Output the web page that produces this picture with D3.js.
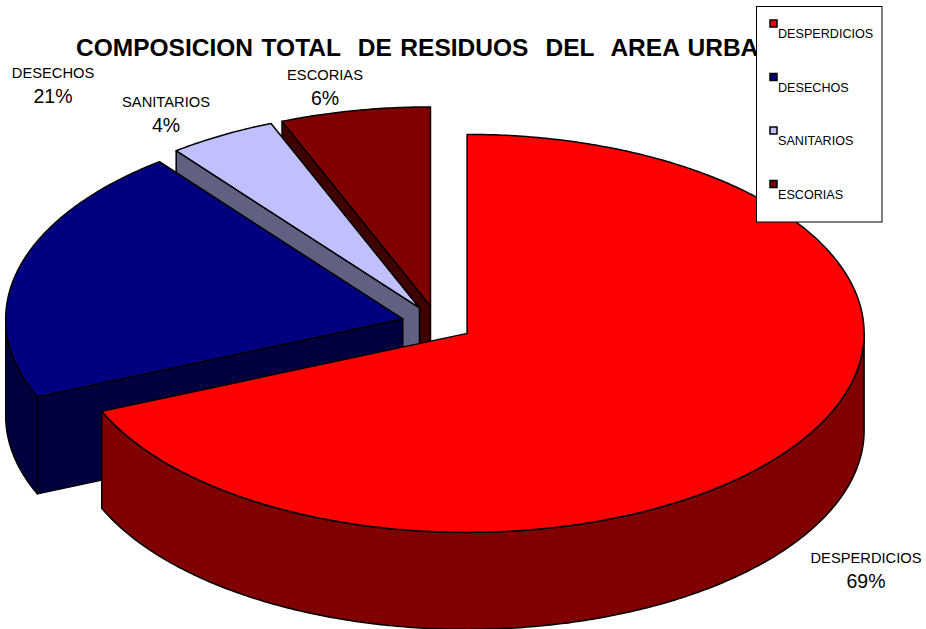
<!DOCTYPE html>
<html>
<head>
<meta charset="utf-8">
<script src="https://cdn.jsdelivr.net/npm/d3@7/dist/d3.min.js"></script>
<style>
html,body{margin:0;padding:0;background:#fff;}
svg{display:block;}
text{font-family:"Liberation Sans",Arial,sans-serif;fill:#000;}
</style>
</head>
<body>
<script>
const categories = ["DESPERDICIOS","DESECHOS","SANITARIOS","ESCORIAS"];
const seriesValues = [68.6,20.9,4.4,6.1];
const percentLabels = ["69%","21%","4%","6%"];
const titleText = "COMPOSICION TOTAL  DE RESIDUOS  DEL  AREA URBANA";

const topColors  = ["#FF0000","#000080","#C0C0FF","#800000"];
const wallColors = ["#800000","#000040","#606080","#400000"];
const labelAnchors = [[866,563],[53,78],[166,107],[325,80]];

const W = 926, H = 629;
const base = {x:437.3, y:323.5};
const rx = 397, ry = 199, depth = 97, explode = 0.09;

const svg = d3.select("body").append("svg").attr("width",W).attr("height",H);

const pie = d3.pie().sort(null).value(d=>d.v);
const arcs = pie(categories.map((c,i)=>({c,v:seriesValues[i],i})));

const px = (c,a,dy=0)=>[c.x + rx*Math.sin(a), c.y - ry*Math.cos(a) + dy];
const lineGen = d3.line();
const sampleArc = (c,a0,a1,dy=0)=>{
  const n = Math.max(2,Math.ceil(Math.abs(a1-a0)/0.01));
  return d3.range(n+1).map(i=>px(c,a0+(a1-a0)*i/n,dy));
};
const PI = Math.PI;

svg.append("text").attr("x",76).attr("y",56)
  .attr("xml:space","preserve").style("white-space","pre").style("word-spacing","1.8px")
  .attr("font-size",24.5).attr("font-weight","bold").text(titleText);

// back to front
const order = [3,2,1,0];
order.forEach(i=>{
  const s = arcs[i];
  const mid = (s.startAngle+s.endAngle)/2;
  const c = {x:base.x+explode*rx*Math.sin(mid), y:base.y-explode*ry*Math.cos(mid)};
  const g = svg.append("g");
  const st = {stroke:"#000","stroke-width":1.5,"stroke-linejoin":"round"};
  const poly = (pts,fill)=>{
    const p = g.append("path").attr("d",lineGen(pts)+"Z").attr("fill",fill);
    Object.entries(st).forEach(([k,v])=>p.attr(k,v));
  };
  const apex=[c.x,c.y], apexB=[c.x,c.y+depth];
  if(s.startAngle>PI){
    const a=px(c,s.startAngle), b=px(c,s.startAngle,depth);
    poly([apex,a,b,apexB],wallColors[i]);
  }
  if(s.endAngle>0 && s.endAngle<PI){
    const a=px(c,s.endAngle), b=px(c,s.endAngle,depth);
    poly([apex,a,b,apexB],wallColors[i]);
  }
  const from=Math.max(s.startAngle,PI/2), to=Math.min(s.endAngle,3*PI/2);
  if(to>from){
    poly(sampleArc(c,from,to).concat(sampleArc(c,to,from,depth)),wallColors[i]);
  }
  poly([apex].concat(sampleArc(c,s.startAngle,s.endAngle)),topColors[i]);
});

// data labels
categories.forEach((c,i)=>{
  const [x,y]=labelAnchors[i];
  svg.append("text").attr("x",x).attr("y",y).attr("text-anchor","middle").attr("font-size",14.7).text(c);
  svg.append("text").attr("x",x).attr("y",y+25).attr("text-anchor","middle").attr("font-size",19.5).text(percentLabels[i]);
});

// legend
const legend = svg.append("g");
legend.append("rect").attr("x",756.5).attr("y",6.5).attr("width",125.5).attr("height",215.5)
  .attr("fill","#fff").attr("stroke","#000").attr("stroke-width",1);
const legendY = d3.scalePoint().domain(categories).range([23.5,184]);
categories.forEach((c,i)=>{
  const y=legendY(c);
  legend.append("rect").attr("x",770).attr("y",y-3.5).attr("width",7).attr("height",7)
    .attr("fill",topColors[i]).attr("stroke","#000").attr("stroke-width",1.5);
  legend.append("text").attr("x",778).attr("y",y+14.5).attr("font-size",12.6).text(c);
});
</script>
</body>
</html>
